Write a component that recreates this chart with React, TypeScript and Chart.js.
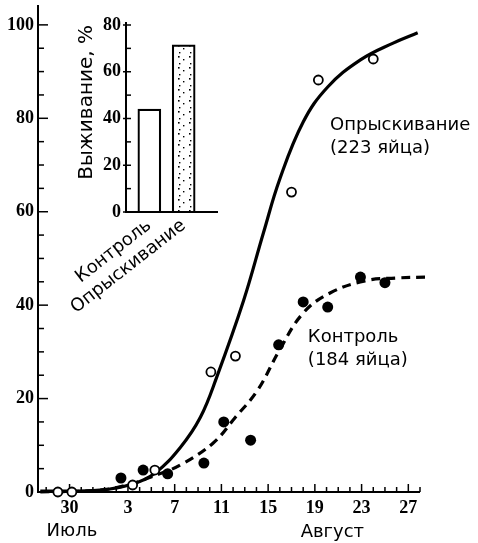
import React, { useEffect, useRef } from 'react';
import { Chart, registerables } from 'chart.js';
Chart.register(...registerables);

// ---- main chart data ----
const xTickValues = [-2, 3, 7, 11, 15, 19, 23, 27];
const xTickLabels = ['30', '3', '7', '11', '15', '19', '23', '27'];
const yTickValues = [0, 20, 40, 60, 80, 100];

const sprayX = [-3, -1.8, 3.4, 5.3, 10.1, 12.2, 17, 19.3, 24];
const sprayY = [0, 0, 1.5, 4.7, 25.7, 29.1, 64.2, 88.2, 92.7];
const controlX = [2.4, 4.3, 6.4, 9.5, 11.2, 13.5, 15.9, 18, 20.1, 22.9, 25];
const controlY = [3, 4.7, 3.9, 6.2, 15, 11.1, 31.5, 40.7, 39.6, 46, 44.8];

const sprayCurveX = [-4.5, 0.6, 3.4, 5.3, 7.5, 9.2, 10.6, 12.9, 14.6, 16, 18, 20.1, 22.9, 25.7, 27.8];
const sprayCurveY = [0.2, 0.4, 1.7, 4, 9.6, 16, 24.6, 41, 55.5, 67, 79.2, 86.7, 92.5, 96.1, 98.3];
const controlCurveX = [-4.5, 0.6, 3.2, 5.7, 7.5, 10.3, 12.2, 14.1, 16, 18, 20.3, 23.3, 25.9, 28.6];
const controlCurveY = [0, 0.4, 1.7, 3.9, 5.8, 10.5, 16, 21.8, 30.5, 38.3, 42.6, 45.2, 45.8, 46];

// ---- inset data ----
const insetCategories = ['Контроль', 'Опрыскивание'];
const insetPositions = [1, 2];
const insetValues = [44, 71.5];
const insetYTicks = [0, 20, 40, 60, 80];

// annotation texts (data coordinates)
const notes = [
  { x: 20.3, y: 78.6, lines: ['Опрыскивание', '(223 яйца)'], align: 'left' },
  { x: 18.4, y: 33.2, lines: ['Контроль', '(184 яйца)'], align: 'left' },
  { x: -1.8, y: -8.5, lines: ['Июль'], align: 'center' },
  { x: 20.5, y: -8.7, lines: ['Август'], align: 'center' },
];

const SANS = "'DejaVu Sans', sans-serif";
const SERIF = "'Liberation Serif', serif";

const mainDecor = {
  id: 'mainDecor',
  beforeDatasetsDraw(chart: any) {
    const { ctx, chartArea: a, scales } = chart;
    const x = scales.x, y = scales.y;
    ctx.save();
    ctx.strokeStyle = '#000';
    ctx.lineWidth = 2;
    ctx.beginPath();
    ctx.moveTo(a.left, 5);
    ctx.lineTo(a.left, a.bottom);
    ctx.lineTo(a.right, a.bottom);
    ctx.stroke();
    ctx.lineWidth = 1.5;
    for (let v = 0; v <= 100; v += 5) {
      const py = y.getPixelForValue(v);
      const major = v % 20 === 0;
      ctx.beginPath();
      ctx.moveTo(a.left - (major ? 0 : 1), py);
      ctx.lineTo(a.left + (major ? 10 : 6), py);
      ctx.stroke();
    }
    for (let d = -4; d <= 28; d++) {
      const px = x.getPixelForValue(d);
      const major = xTickValues.includes(d);
      ctx.beginPath();
      ctx.moveTo(px, a.bottom);
      ctx.lineTo(px, a.bottom - (major ? 8 : 5));
      ctx.stroke();
    }
    ctx.restore();
  },
  afterDraw(chart: any) {
    const { ctx, scales } = chart;
    ctx.save();
    ctx.fillStyle = '#000';
    ctx.font = `18px ${SANS}`;
    ctx.textBaseline = 'middle';
    notes.forEach((n) => {
      const px = scales.x.getPixelForValue(n.x);
      const py = scales.y.getPixelForValue(n.y);
      ctx.textAlign = n.align;
      n.lines.forEach((t, i) => ctx.fillText(t, px, py + i * 23));
    });
    ctx.restore();
  },
};

const insetDecor = {
  id: 'insetDecor',
  afterDatasetsDraw(chart: any) {
    const { ctx, chartArea: a, scales } = chart;
    const y = scales.y;
    ctx.save();
    ctx.strokeStyle = '#000';
    ctx.lineWidth = 2;
    ctx.beginPath();
    ctx.moveTo(a.left, a.top - 3);
    ctx.lineTo(a.left, a.bottom);
    ctx.lineTo(a.right, a.bottom);
    ctx.stroke();
    ctx.lineWidth = 1.5;
    for (let v = 0; v <= 80; v += 10) {
      const py = y.getPixelForValue(v);
      const major = v % 20 === 0;
      ctx.beginPath();
      ctx.moveTo(a.left - (major ? 3 : 0), py);
      ctx.lineTo(a.left + 5, py);
      ctx.stroke();
    }
    ctx.restore();
  },
};

function makeDots(): CanvasPattern | string {
  const pc = document.createElement('canvas');
  pc.width = 11;
  pc.height = 11;
  const p = pc.getContext('2d');
  if (!p) return '#ddd';
  p.fillStyle = '#fff';
  p.fillRect(0, 0, 11, 11);
  p.fillStyle = '#000';
  p.fillRect(2, 1, 1.6, 1.6);
  p.fillRect(7, 4, 1.4, 1.4);
  p.fillRect(3, 8, 1.4, 1.4);
  const pat = p.createPattern(pc, 'repeat');
  return pat || '#ddd';
}

export default function App() {
  const mainRef = useRef<HTMLCanvasElement>(null);
  const insetRef = useRef<HTMLCanvasElement>(null);

  useEffect(() => {
    const main = new Chart(mainRef.current as HTMLCanvasElement, {
      type: 'scatter',
      data: {
        datasets: [
          {
            label: 'Опрыскивание',
            data: sprayX.map((x, i) => ({ x, y: sprayY[i] })),
            pointRadius: 4.5,
            pointBackgroundColor: '#fff',
            pointBorderColor: '#000',
            pointBorderWidth: 1.8,
            showLine: false,
            clip: false,
          } as any,
          {
            label: 'Контроль',
            data: controlX.map((x, i) => ({ x, y: controlY[i] })),
            pointRadius: 5.5,
            pointBackgroundColor: '#000',
            pointBorderColor: '#000',
            pointBorderWidth: 0,
            showLine: false,
            clip: false,
          },
          {
            type: 'line',
            label: 'Опрыскивание (кривая)',
            data: sprayCurveX.map((x, i) => ({ x, y: sprayCurveY[i] })),
            borderColor: '#000',
            borderWidth: 3.2,
            pointRadius: 0,
            tension: 0.4,
            fill: false,
            clip: false,
          },
          {
            type: 'line',
            label: 'Контроль (кривая)',
            data: controlCurveX.map((x, i) => ({ x, y: controlCurveY[i] })),
            borderColor: '#000',
            borderWidth: 3.2,
            borderDash: [9, 6],
            pointRadius: 0,
            tension: 0.4,
            fill: false,
            clip: false,
          },
        ],
      } as any,
      options: {
        animation: false,
        responsive: false,
        layout: { padding: { top: 16, right: 58, left: 0, bottom: 0 } },
        plugins: { legend: { display: false }, tooltip: { enabled: false } },
        scales: {
          x: {
            type: 'linear',
            min: -4.7,
            max: 28,
            grid: { display: false, drawTicks: false },
            border: { display: false },
            afterBuildTicks: (s: any) => {
              s.ticks = xTickValues.map((v) => ({ value: v }));
            },
            afterFit: (s: any) => {
              s.height = 51;
            },
            ticks: {
              callback: (_v: any, i: number) => xTickLabels[i],
              font: { family: SERIF, size: 18, weight: 'bold' },
              color: '#000',
              padding: 6,
              maxRotation: 0,
              autoSkip: false,
            },
          },
          y: {
            type: 'linear',
            min: 0,
            max: 101.9,
            grid: { display: false, drawTicks: false },
            border: { display: false },
            afterBuildTicks: (s: any) => {
              s.ticks = yTickValues.map((v) => ({ value: v }));
            },
            afterFit: (s: any) => {
              s.width = 38;
            },
            ticks: {
              font: { family: SERIF, size: 18, weight: 'bold' },
              color: '#000',
              padding: 4,
              autoSkip: false,
            },
          },
        },
      } as any,
      plugins: [mainDecor],
    });

    const inset = new Chart(insetRef.current as HTMLCanvasElement, {
      type: 'bar',
      data: {
        datasets: [
          {
            label: 'Выживание',
            data: insetPositions.map((x, i) => ({ x, y: insetValues[i] })),
            backgroundColor: ['#fff', makeDots()],
            borderColor: '#000',
            borderWidth: 2.2,
            barThickness: 23,
          },
        ],
      } as any,
      options: {
        animation: false,
        responsive: false,
        layout: { padding: { top: 25, right: 22, left: 0, bottom: 0 } },
        plugins: { legend: { display: false }, tooltip: { enabled: false } },
        scales: {
          x: {
            type: 'linear',
            min: 0.32,
            max: 3.0,
            offset: false,
            grid: { display: false, drawTicks: false },
            border: { display: false },
            afterBuildTicks: (s: any) => {
              s.ticks = insetPositions.map((v) => ({ value: v }));
            },
            afterFit: (s: any) => {
              s.height = 108;
            },
            ticks: {
              callback: (_v: any, i: number) => insetCategories[i],
              minRotation: 38,
              maxRotation: 38,
              autoSkip: false,
              font: { family: SANS, size: 18 },
              color: '#000',
              padding: 3,
            },
          },
          y: {
            type: 'linear',
            min: 0,
            max: 80,
            grid: { display: false, drawTicks: false },
            border: { display: false },
            afterBuildTicks: (s: any) => {
              s.ticks = insetYTicks.map((v) => ({ value: v }));
            },
            afterFit: (s: any) => {
              s.width = 126;
            },
            title: {
              display: true,
              text: 'Выживание, %',
              align: 'end',
              color: '#000',
              font: { family: SANS, size: 20 },
              padding: { top: 75, bottom: 0 },
            },
            ticks: {
              font: { family: SERIF, size: 18, weight: 'bold' },
              color: '#000',
              padding: 5,
              autoSkip: false,
            },
          },
        },
      } as any,
      plugins: [insetDecor],
    });

    return () => {
      main.destroy();
      inset.destroy();
    };
  }, []);

  return (
    <div style={{ position: 'absolute', left: 0, top: 0, width: 478, height: 543, background: '#fff' }}>
      <canvas ref={mainRef} width={478} height={543} style={{ position: 'absolute', left: 0, top: 0, width: 478, height: 543 }} />
      <canvas ref={insetRef} width={240} height={320} style={{ position: 'absolute', left: 0, top: 0, width: 240, height: 320 }} />
    </div>
  );
}
